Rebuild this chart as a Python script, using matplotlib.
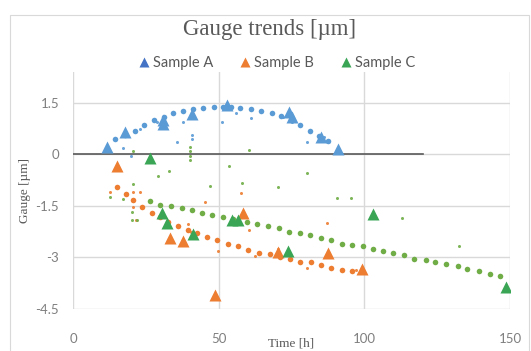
import matplotlib
matplotlib.use("Agg")
import matplotlib.pyplot as plt
from matplotlib.patches import Rectangle
from matplotlib.lines import Line2D

# ---- data ----
a_tri_x = [11.7, 18, 31, 31, 41, 53, 74, 75, 85, 91]
a_tri_y = [0.23, 0.66, 1.0, 0.9, 1.18, 1.44, 1.24, 1.1, 0.5, 0.17]
a_trend_x = [14.4, 17.8, 21.3, 24.4, 27.8, 31.1, 34.4, 37.8, 41.2, 44.7, 48.5, 51.5,
             54.4, 57.4, 61.2, 64.6, 68.4, 71.5, 74.8, 78, 81.4, 84.5, 87.6]
a_trend_y = [0.46, 0.58, 0.69, 0.86, 1.0, 1.1, 1.2, 1.27, 1.31, 1.35, 1.38, 1.38,
             1.37, 1.35, 1.32, 1.27, 1.21, 1.13, 1.0, 0.86, 0.69, 0.55, 0.4]
a_pts_x = [17, 20, 23, 29, 31, 35.6, 37.8, 41, 41, 51, 56, 61, 72, 75, 80.4, 86]
a_pts_y = [0.2, -0.05, 0.75, 0.95, 0.85, 0.37, 0.95, 0.57, 0.46, 0.95, 1.2, 1.07, 1.1, 0.95, 0.37, 0.5]

b_tri_x = [15.2, 33.3, 37.7, 48.8, 58.3, 70.5, 87.6, 99.3]
b_tri_y = [-0.34, -2.42, -2.53, -4.09, -1.71, -2.84, -2.88, -3.34]
b_trend_x = [15.2, 18.2, 20.7, 23.6, 27, 29.7, 32.7, 36, 39.6, 42.7, 46, 49.4, 53.2,
             56.6, 60.2, 63.7, 67.7, 71.2, 74.6, 78, 81.7, 85.2, 88.7, 92.4, 95.9]
b_trend_y = [-0.95, -1.15, -1.33, -1.53, -1.7, -1.82, -1.96, -2.07, -2.19, -2.3, -2.4,
             -2.5, -2.6, -2.67, -2.77, -2.86, -2.9, -2.98, -3.05, -3.12, -3.14, -3.22,
             -3.3, -3.35, -3.4]
b_pts_x = [12.7, 18.2, 20.5, 23, 20.5, 20.5, 21.6, 39.5, 40.5, 45.4, 57.7, 60.5, 87.3,
           49.8, 62.5, 80.4, 70.5, 97]
b_pts_y = [-1.1, -1.15, -1.1, -1.1, -1.35, -1.53, -1.9, -2.02, -2.25, -1.38, -1.12,
           -2.19, -1.99, -2.8, -2.97, -3.31, -2.75, -3.35]

c_tri_x = [26.5, 30.6, 32.3, 41.3, 54.6, 56.5, 73.9, 103.1, 148.5]
c_tri_y = [-0.09, -1.7, -1.99, -2.33, -1.9, -1.9, -2.82, -1.73, -3.86]
c_trend_x = [26.5, 29.9, 33.6, 37.4, 40.8, 44.2, 47.8, 51.5, 55, 59.7, 63.3, 67, 70.8,
             74.2, 78, 81.4, 85.2, 88.7, 92.4, 95.9, 99.6, 103.1, 106.5, 110, 113.7,
             117.2, 121, 124.4, 128.2, 132, 135.4, 139.2, 143, 146.4]
c_trend_y = [-1.36, -1.47, -1.5, -1.56, -1.61, -1.7, -1.76, -1.82, -1.87, -1.96, -2.02,
             -2.07, -2.13, -2.25, -2.28, -2.36, -2.42, -2.5, -2.6, -2.65, -2.68, -2.74,
             -2.82, -2.88, -2.94, -3.03, -3.08, -3.14, -3.2, -3.26, -3.34, -3.4, -3.49,
             -3.54]
c_pts_x = [20.6, 20.6, 12.7, 17.2, 20.3, 20.3, 22, 29.2, 33, 40, 40, 40, 40, 47, 53.4,
           58, 60.5, 80.4, 70.5, 90.7, 95.5, 113, 132.6]
c_pts_y = [0.09, -0.86, -1.24, -1.3, -1.67, -1.9, -1.9, -0.63, -0.49, 0.23, 0.1, -0.05,
           -0.17, -0.93, -0.34, -0.83, 0.14, -0.53, -0.96, -1.28, -1.28, -1.84, -2.67]

labels = ["Sample A", "Sample B", "Sample C"]
x_ticks = [0, 50, 100, 150]
y_ticks = [-4.5, -3, -1.5, 0, 1.5]
y_tick_labels = ["-4.5", "-3", "-1.5", "0", "1.5"]

# ---- styles ----
tri_cols = ["#4472C4", "#ED7D31", "#3aa655"]
dot_cols = ["#5B9BD5", "#ED7D31", "#70AD47"]
txt = "#595959"
tick_c = "#7f7f7f"
serif = ["Liberation Serif", "DejaVu Serif"]
sans = ["Lato", "DejaVu Sans"]

W, H = 531, 351
fig = plt.figure(figsize=(W / 100, H / 100), dpi=100)
fig.patches.append(Rectangle((10 / W, -0.02), 1 - 12 / W, 1 - 8 / H,
                             transform=fig.transFigure, fill=False,
                             edgecolor="#d9d9d9", lw=0.8))

ax = fig.add_axes([73 / W, 1 - 309 / H, (510 - 73) / W, (309 - 72) / H])
ax.set_xlim(0, 150)
ax.set_ylim(-4.5, 2.4)
for s in ax.spines.values():
    s.set_visible(False)
ax.set_xticks(x_ticks)
ax.set_yticks(y_ticks)
ax.set_yticklabels(y_tick_labels)
ax.grid(True, color="#d9d9d9", lw=1.0)
ax.set_axisbelow(True)
ax.tick_params(length=0, labelcolor=tick_c, labelsize=9.5)
ax.tick_params(axis="x", pad=17)
ax.tick_params(axis="y", pad=10)
for lab in ax.get_xticklabels() + ax.get_yticklabels():
    lab.set_fontfamily(sans)

ax.plot([0, 120], [0, 0], color="#595959", lw=1.2, zorder=2)

series = [
    (a_tri_x, a_tri_y, a_trend_x, a_trend_y, a_pts_x, a_pts_y),
    (b_tri_x, b_tri_y, b_trend_x, b_trend_y, b_pts_x, b_pts_y),
    (c_tri_x, c_tri_y, c_trend_x, c_trend_y, c_pts_x, c_pts_y),
]
for i, (tx, ty, dx, dy, px, py) in enumerate(series):
    ax.plot(px, py, "o", ms=2.2, color=dot_cols[i], mec="none", alpha=0.9, zorder=3)
    ax.plot(dx, dy, "o", ms=4.0, color=dot_cols[i], mec="none", zorder=3)
    ax.plot(tx, ty, "^", ms=9, color=tri_cols[i] if i != 0 else dot_cols[0],
            mec="none", zorder=4)

ax.set_xlabel("Time [h]", family=serif, color=txt, fontsize=9.5)
ax.xaxis.set_label_coords(0.5, -(343 - 309) / 237)
ax.xaxis.label.set_va("center")
ax.set_ylabel("Gauge [µm]", family=serif, color=txt, fontsize=9.5)
ax.yaxis.set_label_coords(-(73 - 25) / 437, 0.5)
ax.yaxis.label.set_va("center")

fig.text(270 / W, 1 - 30 / H, "Gauge trends [µm]", ha="center", va="center",
         family=serif, color=txt, fontsize=16.5)

handles = [Line2D([], [], marker="^", ls="none", ms=7, color=tri_cols[i], mec="none")
           for i in range(3)]
fig.legend(handles, labels, loc="center", bbox_to_anchor=(275 / W, 1 - 63 / H),
           ncol=3, frameon=False, prop={"family": sans, "size": 10.5},
           labelcolor=txt, handletextpad=0.0, columnspacing=1.6, handlelength=1.2)

fig.savefig("out.png", dpi=100)
